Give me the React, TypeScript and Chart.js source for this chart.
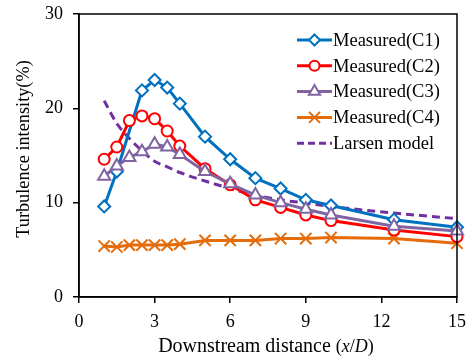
import React, { useEffect, useRef } from "react";
import { Chart, registerables } from "chart.js";

Chart.register(...registerables);

const xC1 = [1, 1.5, 2.5, 3, 3.5, 4, 5, 6, 7, 8, 9, 10, 12.5, 15];
const yC1 = [9.6, 13.3, 21.9, 23.0, 22.2, 20.5, 17.0, 14.6, 12.6, 11.5, 10.3, 9.7, 8.2, 7.4];

const xC2 = [1, 1.5, 2, 2.5, 3, 3.5, 4, 5, 6, 7, 8, 9, 10, 12.5, 15];
const yC2 = [14.6, 15.9, 18.7, 19.2, 18.9, 17.6, 16.0, 13.6, 11.9, 10.3, 9.5, 8.7, 8.1, 7.1, 6.4];

const xC3 = [1, 1.5, 2, 2.5, 3, 3.5, 4, 5, 6, 7, 8, 9, 10, 12.5, 15];
const yC3 = [12.8, 13.9, 14.8, 15.4, 16.2, 15.9, 15.1, 13.3, 12.0, 10.8, 10.0, 9.3, 8.7, 7.5, 7.0];

const xC4 = [1, 1.5, 2, 2.5, 3, 3.5, 4, 5, 6, 7, 8, 9, 10, 12.5, 15];
const yC4 = [5.4, 5.3, 5.5, 5.5, 5.5, 5.5, 5.6, 6.0, 6.0, 6.0, 6.2, 6.2, 6.3, 6.2, 5.7];

const xLarsen = [1, 1.5, 2, 2.5, 3, 3.5, 4, 5, 6, 7, 8, 9, 10, 12.5, 15];
const yLarsen = [20.8, 18.4, 16.8, 15.5, 14.4, 13.8, 13.2, 12.3, 11.5, 10.8, 10.3, 9.95, 9.6, 8.9, 8.3];

const xTicks = [0, 3, 6, 9, 12, 15];
const yTicks = [0, 10, 20, 30];

const legendLabels = ["Measured(C1)", "Measured(C2)", "Measured(C3)", "Measured(C4)", "Larsen model"];

const BLUE = "#0070C0";
const RED = "#FF0000";
const PURPLE = "#8064A2";
const ORANGE = "#E46C0A";
const DPURPLE = "#7030A0";
const FONT = "'Liberation Serif', 'Times New Roman', serif";

const pts = (xs: number[], ys: number[]) => xs.map((x, i) => ({ x, y: ys[i] }));

function drawMarker(ctx: CanvasRenderingContext2D, kind: string, x: number, y: number, color: string) {
  ctx.save();
  ctx.strokeStyle = color;
  ctx.fillStyle = "#fff";
  ctx.lineWidth = 2;
  ctx.setLineDash([]);
  ctx.beginPath();
  if (kind === "diamond") {
    const r = 5.5;
    ctx.moveTo(x, y - r);
    ctx.lineTo(x + r, y);
    ctx.lineTo(x, y + r);
    ctx.lineTo(x - r, y);
    ctx.closePath();
    ctx.fill();
    ctx.stroke();
  } else if (kind === "circle") {
    ctx.arc(x, y, 5, 0, Math.PI * 2);
    ctx.fill();
    ctx.stroke();
  } else if (kind === "triangle") {
    const r = 6.5;
    ctx.moveTo(x, y - r);
    ctx.lineTo(x + r * 0.866, y + r * 0.5);
    ctx.lineTo(x - r * 0.866, y + r * 0.5);
    ctx.closePath();
    ctx.fill();
    ctx.stroke();
  } else if (kind === "cross") {
    const r = 5.5;
    ctx.moveTo(x - r, y - r);
    ctx.lineTo(x + r, y + r);
    ctx.moveTo(x + r, y - r);
    ctx.lineTo(x - r, y + r);
    ctx.stroke();
  }
  ctx.restore();
}

const framePlugin = {
  id: "frameAndLegend",
  afterDraw(chart: any) {
    const { ctx, chartArea } = chart;
    const { left, right, top, bottom } = chartArea;
    ctx.save();
    ctx.strokeStyle = "#000";
    ctx.lineWidth = 1.5;
    ctx.strokeRect(left, top, right - left, bottom - top);

    const items = [
      { color: BLUE, kind: "diamond", dash: [] as number[] },
      { color: RED, kind: "circle", dash: [] as number[] },
      { color: PURPLE, kind: "triangle", dash: [] as number[] },
      { color: ORANGE, kind: "cross", dash: [] as number[] },
      { color: DPURPLE, kind: "none", dash: [7, 4] },
    ];
    const x0 = right - 160;
    const x1 = right - 125;
    items.forEach((it, i) => {
      const y = top + 26 + i * 25.8;
      ctx.strokeStyle = it.color;
      ctx.lineWidth = 3;
      ctx.setLineDash(it.dash);
      ctx.beginPath();
      ctx.moveTo(x0, y);
      ctx.lineTo(x1, y);
      ctx.stroke();
      ctx.setLineDash([]);
      if (it.kind !== "none") drawMarker(ctx, it.kind, (x0 + x1) / 2, y, it.color);
      ctx.fillStyle = "#000";
      ctx.font = `18.5px ${FONT}`;
      ctx.textAlign = "left";
      ctx.textBaseline = "middle";
      ctx.fillText(legendLabels[i], right - 124, y + 1);
    });

    ctx.save();
    ctx.translate(24, 149);
    ctx.rotate(-Math.PI / 2);
    ctx.font = `18.3px ${FONT}`;
    ctx.fillStyle = "#000";
    ctx.textAlign = "center";
    ctx.textBaseline = "middle";
    ctx.fillText("Turbulence intensity(%)", 0, 0);
    ctx.restore();

    const parts = [
      { t: "Downstream distance ", it: false, s: 20 },
      { t: "(", it: false, s: 18 },
      { t: "x", it: true, s: 18 },
      { t: "/", it: false, s: 18 },
      { t: "D", it: true, s: 18 },
      { t: ")", it: false, s: 18 },
    ];
    let total = 0;
    parts.forEach((p) => {
      ctx.font = `${p.it ? "italic " : ""}${p.s}px ${FONT}`;
      total += ctx.measureText(p.t).width;
    });
    let cx = 266 - total / 2;
    ctx.fillStyle = "#000";
    ctx.textAlign = "left";
    ctx.textBaseline = "alphabetic";
    parts.forEach((p) => {
      ctx.font = `${p.it ? "italic " : ""}${p.s}px ${FONT}`;
      ctx.fillText(p.t, cx, 352);
      cx += ctx.measureText(p.t).width;
    });
    ctx.restore();
  },
};

export default function App() {
  const ref = useRef<HTMLCanvasElement | null>(null);
  useEffect(() => {
    if (!ref.current) return;
    const common = { borderWidth: 3, pointBorderWidth: 2, pointBackgroundColor: "#fff", clip: false as any, fill: false };
    const zeroPad = (s: any) => {
      s.paddingTop = 0;
      s.paddingBottom = 0;
      s.paddingLeft = 0;
      s.paddingRight = 0;
    };
    const chart = new Chart(ref.current, {
      type: "line",
      data: {
        datasets: [
          { ...common, label: "Larsen model", data: pts(xLarsen, yLarsen), borderColor: DPURPLE, borderDash: [8, 5], pointRadius: 0, cubicInterpolationMode: "monotone", order: 5 },
          { ...common, label: "Measured(C4)", data: pts(xC4, yC4), borderColor: ORANGE, pointBorderColor: ORANGE, pointStyle: "crossRot", pointRadius: 8, order: 4 },
          { ...common, label: "Measured(C1)", data: pts(xC1, yC1), borderColor: BLUE, pointBorderColor: BLUE, pointStyle: "rectRot", pointRadius: 6, order: 3 },
          { ...common, label: "Measured(C2)", data: pts(xC2, yC2), borderColor: RED, pointBorderColor: RED, pointStyle: "circle", pointRadius: 5.5, order: 2 },
          { ...common, label: "Measured(C3)", data: pts(xC3, yC3), borderColor: PURPLE, pointBorderColor: PURPLE, pointStyle: "triangle", pointRadius: 7, order: 1 },
        ] as any,
      },
      options: {
        animation: false,
        responsive: false,
        maintainAspectRatio: false,
        layout: { padding: { top: 14, right: 11, left: 0, bottom: 0 } },
        plugins: { legend: { display: false }, tooltip: { enabled: false } },
        scales: {
          x: {
            type: "linear",
            min: 0,
            max: 15,
            afterFit: (s: any) => { s.height = 61; zeroPad(s); },
            afterBuildTicks: (s: any) => { s.ticks = xTicks.map((v) => ({ value: v })); },
            grid: { display: true, drawOnChartArea: false, drawTicks: true, tickLength: 6, color: "#000", lineWidth: 1.5 },
            border: { display: true, color: "#000", width: 1.5 },
            ticks: { color: "#000", font: { family: FONT, size: 18 }, padding: 8, maxRotation: 0 },
          },
          y: {
            type: "linear",
            min: 0,
            max: 30,
            afterFit: (s: any) => { s.width = 79; zeroPad(s); },
            afterBuildTicks: (s: any) => { s.ticks = yTicks.map((v) => ({ value: v })); },
            grid: { display: true, drawOnChartArea: false, drawTicks: true, tickLength: 6, color: "#000", lineWidth: 1.5 },
            border: { display: true, color: "#000", width: 1.5 },
            ticks: { color: "#000", font: { family: FONT, size: 18 }, padding: 10 },
          },
        },
      } as any,
      plugins: [framePlugin],
    });
    return () => chart.destroy();
  }, []);
  return (
    <div style={{ position: "fixed", left: 0, top: 0, width: 468, height: 358, background: "#fff" }}>
      <canvas ref={ref} width={468} height={358} style={{ width: 468, height: 358 }} />
    </div>
  );
}
